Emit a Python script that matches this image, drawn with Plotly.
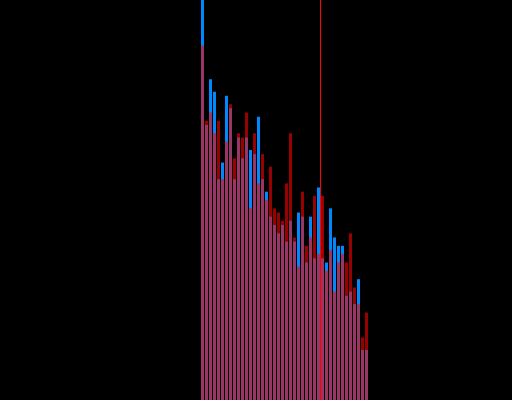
import plotly.graph_objects as go

# Bin index of each histogram bar
bins = list(range(42))

# Counts per bin for the two overlaid distributions
blue_counts = [110, 66, 77, 74, 53, 57, 73, 70, 53, 63,
               58, 63, 60, 59, 68, 53, 50, 44, 42, 40,
               42, 38, 43, 38, 45, 44, 33, 44, 34, 51,
               34, 33, 46, 39, 37, 37, 25, 26, 23, 29,
               12, 12]
red_counts = [85, 67, 69, 64, 67, 53, 62, 71, 58, 64,
              63, 69, 46, 64, 52, 59, 48, 56, 46, 45,
              43, 52, 64, 39, 32, 50, 37, 39, 49, 35,
              49, 31, 36, 26, 33, 35, 33, 40, 27, 23,
              15, 21]

# Position of the vertical marker line (between bins 29 and 30)
marker_x = 29.5

fig = go.Figure()
fig.add_trace(go.Bar(x=bins, y=blue_counts, width=0.75,
                     marker=dict(color="rgb(0,136,255)", line=dict(width=0)),
                     opacity=1.0, showlegend=False))
fig.add_trace(go.Bar(x=bins, y=red_counts, width=0.75,
                     marker=dict(color="rgb(255,0,0)", line=dict(width=0)),
                     opacity=0.6, showlegend=False))

fig.add_shape(type="line", xref="x", yref="paper",
              x0=marker_x, x1=marker_x, y0=0, y1=1,
              line=dict(color="rgb(255,0,0)", width=1))

fig.update_layout(
    width=512, height=400,
    margin=dict(l=0, r=0, t=0, b=0),
    paper_bgcolor="black", plot_bgcolor="black",
    barmode="overlay",
    xaxis=dict(range=[-50.625, 77.375], visible=False),
    yaxis=dict(range=[0, 96], visible=False),
)

fig.write_html("out.html")
